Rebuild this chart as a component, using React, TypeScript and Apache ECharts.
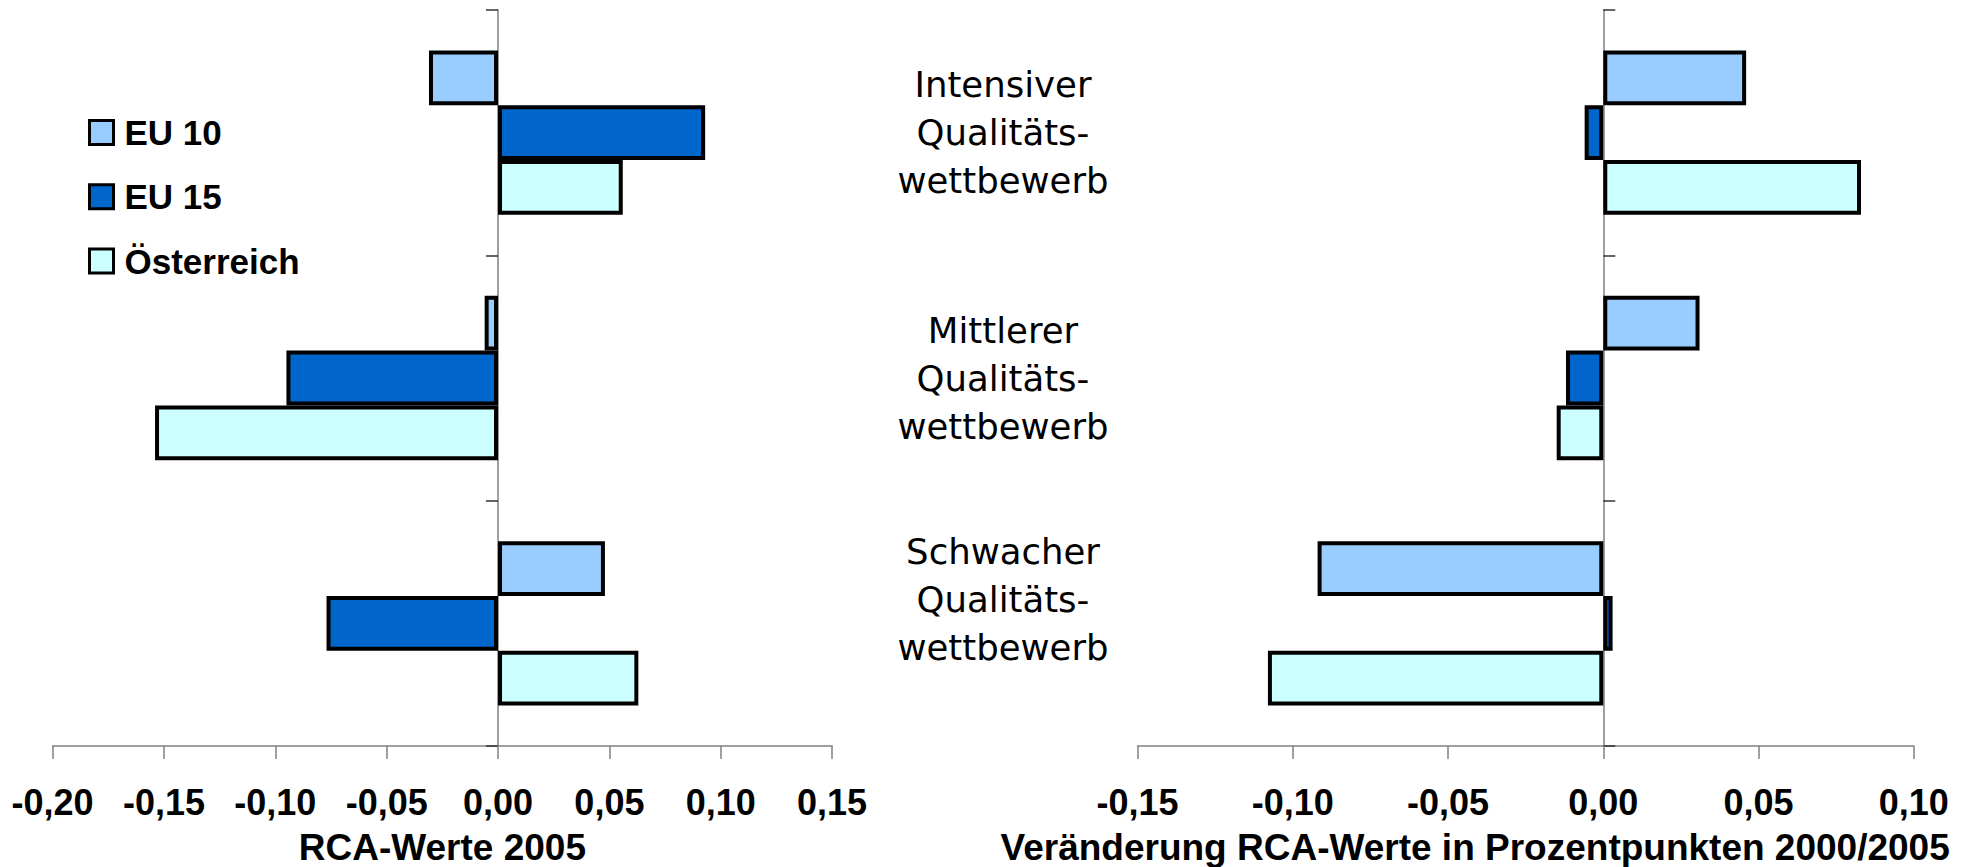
import React, { useEffect, useRef } from "react";
import * as echarts from "echarts";

const categories = [
  "Intensiver\nQualitäts-\nwettbewerb",
  "Mittlerer\nQualitäts-\nwettbewerb",
  "Schwacher\nQualitäts-\nwettbewerb",
];
const seriesNames = ["EU 10", "EU 15", "Österreich"];
const seriesColors = ["#99CCFF", "#0066CC", "#CCFFFF"];

// RCA-Werte 2005
const rca2005EU10 = [-0.031, -0.006, 0.048];
const rca2005EU15 = [0.093, -0.095, -0.077];
const rca2005AT = [0.056, -0.154, 0.063];

// Veränderung RCA-Werte in Prozentpunkten 2000/2005
const changeEU10 = [0.046, 0.031, -0.092];
const changeEU15 = [-0.006, -0.012, 0.003];
const changeAT = [0.083, -0.015, -0.108];

const leftAxis = { min: -0.2, max: 0.15, interval: 0.05, name: "RCA-Werte 2005" };
const rightAxis = {
  min: -0.15,
  max: 0.1,
  interval: 0.05,
  name: "Veränderung RCA-Werte in Prozentpunkten 2000/2005",
};

const fmt = (v: number) => v.toFixed(2).replace(".", ",");

const boldFont = {
  fontFamily: "Liberation Sans, Arial, sans-serif",
  fontWeight: "bold" as const,
  color: "#000",
};

function buildOption() {
  const axisGray = "#808080";
  const xAxisBase = (gridIndex: number, ax: typeof leftAxis, namePad: number[]) => ({
    type: "value",
    gridIndex,
    min: ax.min,
    max: ax.max,
    interval: ax.interval,
    name: ax.name,
    nameLocation: "middle",
    nameGap: 83,
    nameTextStyle: { ...boldFont, fontSize: 37, padding: namePad },
    splitLine: { show: false },
    axisLine: { show: true, onZero: false, lineStyle: { color: axisGray, width: 1.5 } },
    axisTick: { show: true, length: 13, lineStyle: { color: axisGray, width: 1.5 } },
    axisLabel: { ...boldFont, fontSize: 36, margin: 38, formatter: fmt },
  });

  // axis carrying the line at zero and the band ticks
  const yLineAxis = (gridIndex: number) => ({
    type: "category",
    gridIndex,
    inverse: true,
    data: categories,
    axisLine: { show: true, onZero: true, lineStyle: { color: axisGray, width: 1.5 } },
    axisTick: { show: true, length: 12, lineStyle: { color: "#333", width: 1.5 } },
    axisLabel: { show: false },
    splitLine: { show: false },
  });

  // axis carrying only the category labels, left of the right-hand plot
  const yLabelAxis = (gridIndex: number) => ({
    type: "category",
    gridIndex,
    inverse: true,
    position: "left",
    data: categories,
    axisLine: { show: false, onZero: false },
    axisTick: { show: false },
    axisLabel: {
      show: true,
      margin: 134.5,
      align: "center",
      fontFamily: "DejaVu Sans, Verdana, sans-serif",
      fontSize: 35.5,
      lineHeight: 48,
      color: "#000",
      // the last label sits somewhat higher in its band in the original
      formatter: (v: string, i: number) => (i === 2 ? v + "\n " : v),
    },
    splitLine: { show: false },
  });

  const leftData = [rca2005EU10, rca2005EU15, rca2005AT];
  const rightData = [changeEU10, changeEU15, changeAT];

  const mkSeries = (data: number[][], xIdx: number, yIdx: number) =>
    data.map((d, i) => ({
      type: "bar",
      name: seriesNames[i],
      xAxisIndex: xIdx,
      yAxisIndex: yIdx,
      data: d,
      barGap: "0%",
      barCategoryGap: "33%",
      itemStyle: { color: seriesColors[i], borderColor: "#000", borderWidth: 4 },
      emphasis: { disabled: true },
    }));

  return {
    animation: false,
    backgroundColor: "#fff",
    grid: [
      { left: 52.6, top: 10, width: 779.5, height: 736, outerBoundsMode: "none" },
      { left: 1137.5, top: 10, width: 776.3, height: 736, outerBoundsMode: "none" },
    ],
    legend: {
      orient: "vertical",
      left: 88,
      top: 115,
      padding: 0,
      itemWidth: 24,
      itemHeight: 24,
      itemGap: 29.3,
      icon: "rect",
      data: seriesNames,
      itemStyle: { borderColor: "#000", borderWidth: 3 },
      textStyle: { ...boldFont, fontSize: 35, padding: [0, 0, 0, 6] },
      selectedMode: false,
    },
    xAxis: [xAxisBase(0, leftAxis, [0, 0, 0, 0]), xAxisBase(1, rightAxis, [0, 101, 0, 0])],
    yAxis: [yLineAxis(0), yLabelAxis(1), yLineAxis(1)],
    series: [...mkSeries(leftData, 0, 0), ...mkSeries(rightData, 1, 1)],
  };
}

export default function App() {
  const ref = useRef<HTMLDivElement>(null);
  useEffect(() => {
    if (!ref.current) return;
    const chart = echarts.init(ref.current, null, { renderer: "svg" });
    chart.setOption(buildOption() as any);
    return () => chart.dispose();
  }, []);
  return (
    <div
      ref={ref}
      style={{ position: "fixed", left: 0, top: 0, width: 1977, height: 867, background: "#fff" }}
    />
  );
}
